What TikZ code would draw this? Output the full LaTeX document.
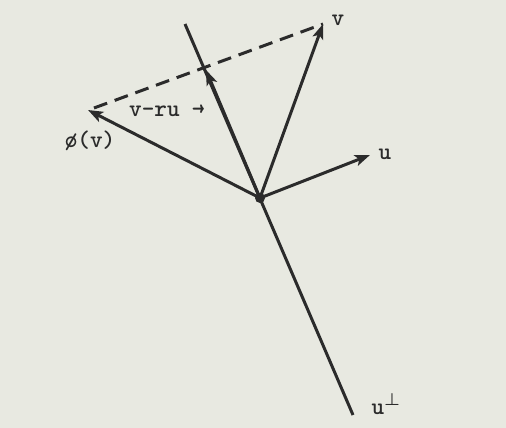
\documentclass[tikz,border=0pt]{standalone}
\usepackage{amsmath}
\usepackage{fontspec}
\usetikzlibrary{arrows.meta}
\begin{document}
\begin{tikzpicture}[x=1pt,y=-1pt,
  vec/.style={line width=3pt, draw=ink, -{Stealth[length=15pt,width=11pt,inset=3.5pt]}},
  axis/.style={line width=3pt, draw=ink},
  lbl/.style={text=ink, font=\ttfamily\bfseries\fontsize{24}{26}\selectfont, inner sep=0pt}]
\definecolor{ink}{HTML}{2B2B2B}
\definecolor{paper}{HTML}{E8E9E1}
\fill[paper] (0,0) rectangle (506,428);
\useasboundingbox (0,0) rectangle (506,428);
\coordinate (O) at (260,198);
\coordinate (top) at (185,24);
\coordinate (bot) at (353,415);
\coordinate (V) at (323,24);
\coordinate (U) at (370,155);
\coordinate (P) at (88,110);
\coordinate (W) at (206,70);
\coordinate (Ps) at (94,108);
\draw[axis] (top) -- (bot);
\draw[vec] (O) -- (V);
\draw[vec] (O) -- (U);
\draw[vec] (O) -- (P);
\draw[vec] (O) -- (W);
\draw[ink, line width=3pt, dash pattern=on 14pt off 8pt] (Ps) -- (V);
\fill[ink] (O) circle (5pt);
\node[lbl] (lv) at (338,20) {v};
\node[lbl] (lu) at (385,154) {u};
\node[lbl] (lup) at (386,404) {u$^{\boldsymbol{\perp}}$};
\node[lbl] (lp) at (90,141) {ø(v)};
\node[lbl] (lw) at (167,111) {v-ru →};
\end{tikzpicture}
\end{document}
